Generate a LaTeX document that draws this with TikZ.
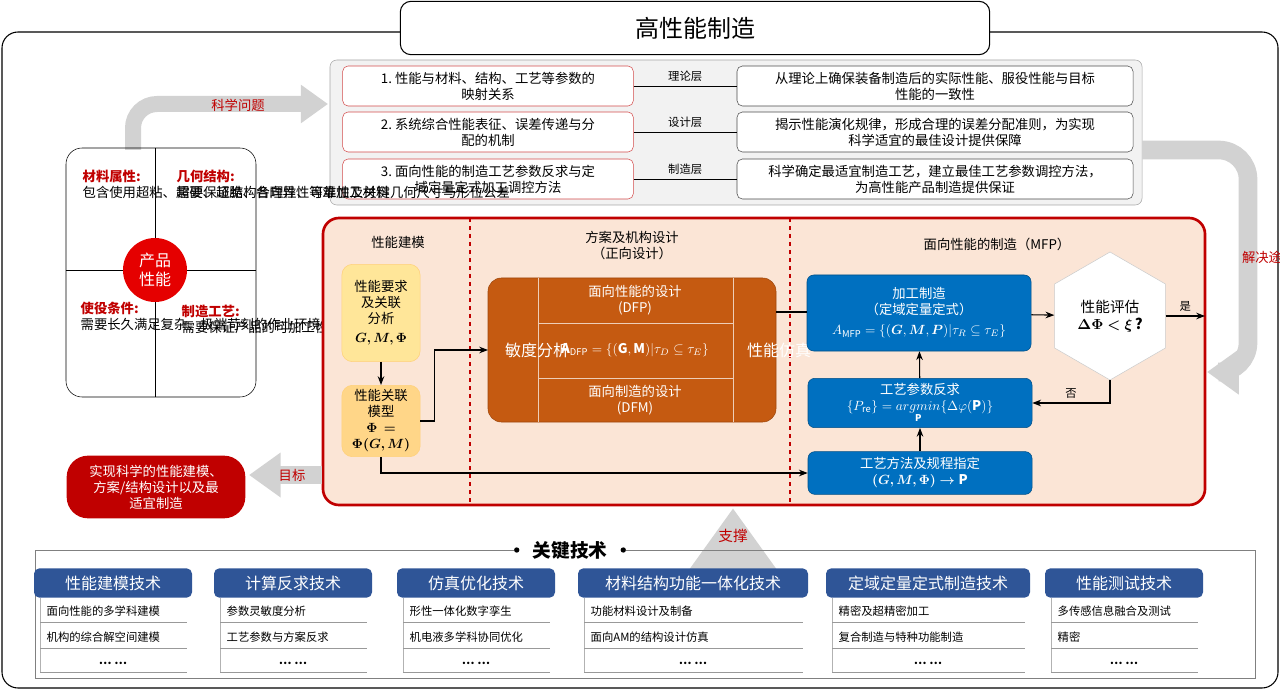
\documentclass[tikz,border=0pt]{standalone}
\usepackage{amsmath,amssymb,bm}
\usepackage{fontspec}
\setmainfont{Noto Sans CJK SC}
\usetikzlibrary{arrows.meta,positioning,shapes.geometric}
\definecolor{qred}{RGB}{192,0,0}
\definecolor{panel}{RGB}{251,229,214}
\definecolor{ochre}{RGB}{197,90,17}
\definecolor{bblue}{RGB}{0,112,192}
\definecolor{hblue}{RGB}{47,85,151}
\definecolor{ylw}{RGB}{255,230,153}
\tikzset{
  txt/.style={font=\fontsize{10}{12}\selectfont, align=center},
  qbox/.style={txt, draw=qred!70, rounded corners=4pt, fill=white, minimum width=218pt, minimum height=30pt},
  abox/.style={txt, draw=black!70, rounded corners=4pt, fill=white, minimum width=297pt, minimum height=30pt},
  ybox/.style={txt, draw=ylw!80!orange, fill=ylw, rounded corners=8pt, minimum width=56pt, text width=52pt},
  bbox/.style={txt, fill=bblue, draw=bblue!70!black, text=white, rounded corners=5pt, minimum width=168pt},
  hbox/.style={font=\fontsize{12}{14}\selectfont, fill=hblue, text=white, rounded corners=4pt, minimum height=22pt},
  item/.style={font=\fontsize{8.5}{10}\selectfont, anchor=west},
  big/.style={draw=gray!35, line width=#1, -{Triangle[length=1.7*#1,width=2.3*#1]}},
  flow/.style={->, >=Stealth, thick}
}
\begin{document}
\begin{tikzpicture}[x=0.75pt,y=-0.75pt]
\useasboundingbox (0,0) rectangle (1280,691);
% frames
\draw[thick, rounded corners=12pt] (2,32) rectangle (1278,688);
\node[draw, thick, fill=white, rounded corners=8pt, minimum width=442pt, minimum height=40pt,
  font=\fontsize{18}{20}\selectfont] (title) at (695,28) {高性能制造};

% scientific questions
\draw[big=12pt, rounded corners=18pt] (133,150) |- (328,104);
\node[txt, text=qred] (sci) at (238,105) {科学问题};
\draw[fill=gray!10, draw=gray!70, rounded corners=5pt] (330,60) rectangle (1142,205);
\node[qbox] (q1) at (488,86) {1.\ 性能与材料、结构、工艺等参数的\\映射关系};
\node[qbox] (q2) at (488,132) {2.\ 系统综合性能表征、误差传递与分\\配的机制};
\node[qbox] (q3) at (488,179) {3.\ 面向性能的制造工艺参数反求与定\\域定量定式加工调控方法};
\node[abox] (a1) at (935,86) {从理论上确保装备制造后的实际性能、服役性能与目标\\性能的一致性};
\node[abox] (a2) at (935,132) {揭示性能演化规律，形成合理的误差分配准则，为实现\\科学适宜的最佳设计提供保障};
\node[abox] (a3) at (935,179) {科学确定最适宜制造工艺，建立最佳工艺参数调控方法，\\为高性能产品制造提供保证};
\foreach \i/\lab in {1/理论层,2/设计层,3/制造层}{
  \draw (q\i) -- node[txt, above, font=\fontsize{8.5}{10}\selectfont] (l\i) {\lab} (a\i);
}

% product quadrant
\draw[rounded corners=12pt] (66,148) rectangle (256,397);
\draw (155,148) -- (155,397) (66,270) -- (256,270);
\node[txt, align=left, text width=58pt, anchor=north west] (mat) at (78,165)
  {\textcolor{qred}{\textbf{材料属性:}}\\包含使用超粘、超硬、超脆、各向异性等难加工材料};
\node[txt, align=left, text width=58pt, anchor=north west] (geo) at (172,165)
  {\textcolor{qred}{\textbf{几何结构:}}\\需要保证结构合理性、可靠性及关键几何尺寸与形位公差};
\node[txt, align=left, text width=58pt, anchor=north west] (use) at (76,297)
  {\textcolor{qred}{\textbf{使役条件:}}\\需要长久满足复杂、极端苛刻的作业环境与工况等条件};
\node[txt, align=left, text width=58pt, anchor=north west] (mfg) at (177,300)
  {\textcolor{qred}{\textbf{制造工艺:}}\\需要保证产品的可加工性、加工与装配的精度与效率};
\node[circle, fill=red!90!black, text=white, minimum size=48pt, txt, font=\fontsize{12}{14}\selectfont] (prod) at (155,270) {产品\\性能};

% solution path
\draw[big=14pt, rounded corners=22pt] (1142,150) -- (1248,150) -- (1248,372) -- (1207,372);
\node[txt, text=qred, text width=12pt] (sol) at (1250,257) {解决途径};

% main panel
\draw[qred, line width=2pt, fill=panel, rounded corners=12pt] (323,218) rectangle (1205,505);
\draw[qred, dashed, thick] (470,218) -- (470,505) (790,218) -- (790,505);
\node[txt] (h1) at (398,242) {性能建模};
\node[txt] (h2) at (632,246) {方案及机构设计\\（正向设计）};
\node[txt] (h3) at (997,244) {面向性能的制造（MFP）};
\node[ybox, minimum height=73pt] (y1) at (381,313) {性能要求\\及关联\\分析\\[2pt] $\bm{G,M,\Phi}$};
\node[ybox, minimum height=50pt, fill=ylw!80!orange!90] (y2) at (381,421) {性能关联\\模型\\ $\bm{\Phi=\Phi(G,M)}$};

\draw[fill=ochre, draw=ochre!80!black, rounded corners=10pt] (488,278) rectangle (776,422);
\draw[white!70!ochre] (538,278) -- (538,422) (733,278) -- (733,422) (538,323) -- (733,323) (538,378) -- (733,378);
\node[txt, text=white, text width=12pt, font=\fontsize{12}{16}\selectfont] (sens) at (513,350) {敏度分析};
\node[txt, text=white, text width=12pt, font=\fontsize{12}{16}\selectfont] (sim) at (755,350) {性能仿真};
\node[txt, text=white] (dfp) at (635,300) {面向性能的设计\\(DFP)};
\node[txt, text=white] (adfp) at (635,350) {$\mathbf{A}_{\mathrm{DFP}}=\{(\mathbf{G},\mathbf{M})|\tau_D\subseteq\tau_E\}$};
\node[txt, text=white] (dfm) at (635,400) {面向制造的设计\\(DFM)};

\node[bbox, minimum height=57pt] (b1) at (919,313) {加工制造\\（定域定量定式）\\[3pt] $A_{\mathrm{MFP}}=\{(\bm{G},\bm{M},\bm{P})|\tau_R\subseteq\tau_E\}$};
\node[bbox, minimum height=37pt] (b2) at (920,403) {工艺参数反求\\ $\{P_{\mathrm{re}}\}=\underset{\mathbf{P}}{argmin}\{\Delta\varphi(\mathbf{P})\}$};
\node[bbox, minimum height=32pt] (b3) at (920,473) {工艺方法及规程指定\\ $\bm{(G,M,\Phi)\rightarrow}\mathbf{P}$};
\node[regular polygon, regular polygon sides=6, shape border rotate=90, draw=gray!40, fill=white,
  minimum width=96pt, inner sep=0pt, txt] (eval) at (1110,316) {};
\node[txt, font=\fontsize{11}{13}\selectfont] (evalt) at (1110,316) {性能评估\\ $\bm{\Delta\Phi<\xi}$\,\textbf{?}};
\coordinate (yes) at (1205,316);
\coordinate (nob) at (1110,403);

\draw[flow] (y1) -- (y2);
\draw[flow] (y2.east) -- ++(14,0) |- (488,350);
\draw[thick] (776,312) -- (b1.west |- 0,312);
\draw[flow] (b1) -- (eval);
\draw[flow] (eval) -- node[txt, above, font=\fontsize{8.5}{10}\selectfont] (yest) {是} (yes);
\draw[flow] (eval) -- (nob) -- node[txt, above, font=\fontsize{8.5}{10}\selectfont] (not) {否} (b2.east);
\draw[flow] (b2) -- (b1);
\draw[flow] (b3) -- (b2);
\draw[flow] (y2.south) |- (b3.west);

% goal
\draw[big=14pt] (322,475) -- (249,475);
\node[txt, text=qred] (goalt) at (292,475) {目标};
\node[txt, fill=qred, text=white, rounded corners=16pt, minimum width=134pt, minimum height=47pt] (goal) at (156,487) {实现科学的性能建模、\\方案/结构设计以及最\\适宜制造};

% support
\draw[big=30pt] (733,547) -- (733,508);
\node[txt, text=qred, font=\fontsize{11}{13}\selectfont] (sup) at (733,536) {支撑};

% key technologies
\draw[gray] (35,550) -- (1255,550) -- (1255,678) -- (35,678) -- cycle;
\node[fill=white, font=\fontsize{14}{16}\selectfont\bfseries, inner xsep=14pt] (key) at (570,550) {关键技术};
\fill (key.west) ++(3,0) circle (2pt) (key.east) ++(-3,0) circle (2pt);
\foreach \n/\xa/\xb/\head/\ia/\ib in {
  k1/34/192/性能建模技术/面向性能的多学科建模/机构的综合解空间建模,
  k2/214/372/计算反求技术/参数灵敏度分析/工艺参数与方案反求,
  k3/397/555/仿真优化技术/形性一体化数字孪生/机电液多学科协同优化,
  k4/578/808/材料结构功能一体化技术/功能材料设计及制备/面向AM的结构设计仿真,
  k5/826/1030/定域定量定式制造技术/精密及超精密加工/复合制造与特种功能制造,
  k6/1045/1203/性能测试技术/多传感信息融合及测试/精密/超精密原位测试}{
  \draw[gray!60] (\xa+6,598) -- (\xa+6,672);
  \draw[gray!80] (\xa+6,622) -- (\xb-5,622) (\xa+6,648) -- (\xb-5,648) (\xa+6,672) -- (\xb-5,672);
  \node[hbox, minimum width={(\xb-\xa)*0.75pt}] (\n) at ({(\xa+\xb)/2},583) {\head};
  \node[item] (\n a) at (\xa+8,611) {\ia};
  \node[item] (\n b) at (\xa+8,637) {\ib};
  \node[font=\fontsize{8.5}{10}\selectfont\bfseries] (\n c) at ({(\xa+\xb)/2},663) {… …};
}
\end{tikzpicture}
\end{document}
